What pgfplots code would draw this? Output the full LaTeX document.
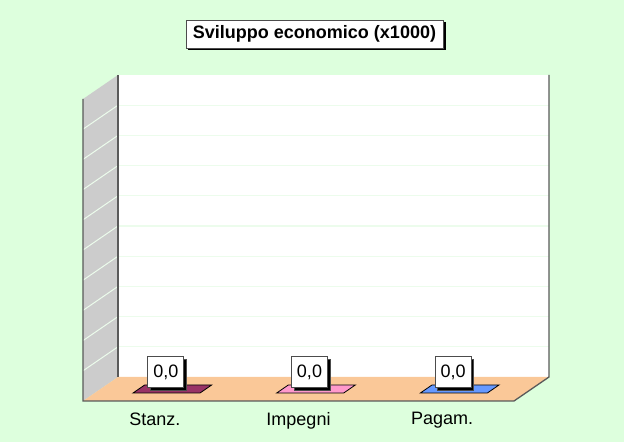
\documentclass[border=0pt]{standalone}
\usepackage{pgfplots}
\pgfplotsset{compat=1.18}
\usepackage{fontspec}
\setmainfont{Liberation Sans}
\usetikzlibrary{shadows}

\definecolor{bggreen}{RGB}{221,255,221}
\definecolor{wallgray}{RGB}{204,204,204}
\definecolor{floorpeach}{RGB}{250,200,152}
\definecolor{gridgreen}{RGB}{236,252,236}
\definecolor{edgegray}{RGB}{90,90,90}
\definecolor{stanz}{RGB}{153,51,102}
\definecolor{impegni}{RGB}{255,153,204}
\definecolor{pagam}{RGB}{102,153,255}

% flat 3D bar (value 0): parallelogram lying on the floor
\pgfdeclareplotmark{flatbar}{%
  \pgfpathmoveto{\pgfqpoint{-45.2pt}{-8pt}}%
  \pgfpathlineto{\pgfqpoint{21.8pt}{-8pt}}%
  \pgfpathlineto{\pgfqpoint{10.2pt}{-16pt}}%
  \pgfpathlineto{\pgfqpoint{-56.8pt}{-16pt}}%
  \pgfpathclose
  \pgfusepathqfillstroke}

\begin{document}
\begin{tikzpicture}
  \useasboundingbox[fill=bggreen] (0,0) rectangle (624pt,442pt);
  \begin{axis}[
      at={(118pt,65pt)}, anchor=south west,
      scale only axis, width=431pt, height=302pt,
      xmin=-0.5, xmax=2.5, ymin=0, ymax=1,
      clip=false,
      axis line style={draw=none},
      tick style={draw=none},
      axis background/.style={fill=white},
      ytick={0.1,0.2,0.3,0.4,0.5,0.6,0.7,0.8,0.9},
      yticklabels={},
      ymajorgrids, grid style={gridgreen, line width=1.2pt},
      xtick={0,1,2},
      xticklabels={Stanz.,Impegni,Pagam.},
      xticklabel style={font=\fontsize{18}{21}\selectfont, xshift=-35pt, yshift=-32pt},
      title={\textbf{Sviluppo economico (x1000)}},
      title style={font=\fontsize{18}{21}\selectfont, at={(axis description cs:0.5,1)},
        anchor=center, xshift=-19pt, yshift=35pt, fill=white, draw=black!70,
        inner xsep=7pt, minimum height=28pt,
        drop shadow={shadow xshift=2.5pt, shadow yshift=-2.5pt, fill=black, opacity=1}},
      /pgf/number format/assume math mode=true,
      nodes near coords={\pgfmathprintnumber[fixed,fixed zerofill,precision=1,use comma]{\pgfplotspointmeta}},
      every node near coord/.append style={font=\fontsize{18}{21}\selectfont, anchor=center,
        xshift=-24pt, yshift=5pt, fill=white, draw=black!70,
        minimum width=36pt, minimum height=31pt, inner sep=2pt,
        drop shadow={shadow xshift=2.5pt, shadow yshift=-2.5pt, fill=black, opacity=1}},
    ]
    % left side wall
    \fill[wallgray] (rel axis cs:0,0) -- (rel axis cs:0,1)
      -- ([shift={(-35pt,-24pt)}]rel axis cs:0,1)
      -- ([shift={(-35pt,-24pt)}]rel axis cs:0,0) -- cycle;
    \pgfplotsinvokeforeach{0.1,0.2,0.3,0.4,0.5,0.6,0.7,0.8,0.9}{
      \draw[gridgreen, line width=1pt] (rel axis cs:0,#1) -- ([shift={(-35pt,-24pt)}]rel axis cs:0,#1);
    }
    % floor
    \fill[floorpeach] (rel axis cs:0,0) -- (rel axis cs:1,0)
      -- ([shift={(-35pt,-24pt)}]rel axis cs:1,0)
      -- ([shift={(-35pt,-24pt)}]rel axis cs:0,0) -- cycle;
    % edges
    \draw[edgegray, line width=1.3pt] (rel axis cs:0,0) -- (rel axis cs:0,1);
    \draw[edgegray, line width=1.3pt] (rel axis cs:1,1) -- (rel axis cs:1,0)
      -- ([shift={(-35pt,-24pt)}]rel axis cs:1,0)
      -- ([shift={(-35pt,-24pt)}]rel axis cs:0,0)
      -- ([shift={(-35pt,-24pt)}]rel axis cs:0,1);
    % bars (all values 0)
    \addplot[only marks, mark=flatbar, mark options={fill=stanz, draw=black, line width=0.8pt}]
      coordinates {(0,0)};
    \addplot[only marks, mark=flatbar, mark options={fill=impegni, draw=black, line width=0.8pt}]
      coordinates {(1,0)};
    \addplot[only marks, mark=flatbar, mark options={fill=pagam, draw=black, line width=0.8pt}]
      coordinates {(2,0)};
  \end{axis}
\end{tikzpicture}
\end{document}
